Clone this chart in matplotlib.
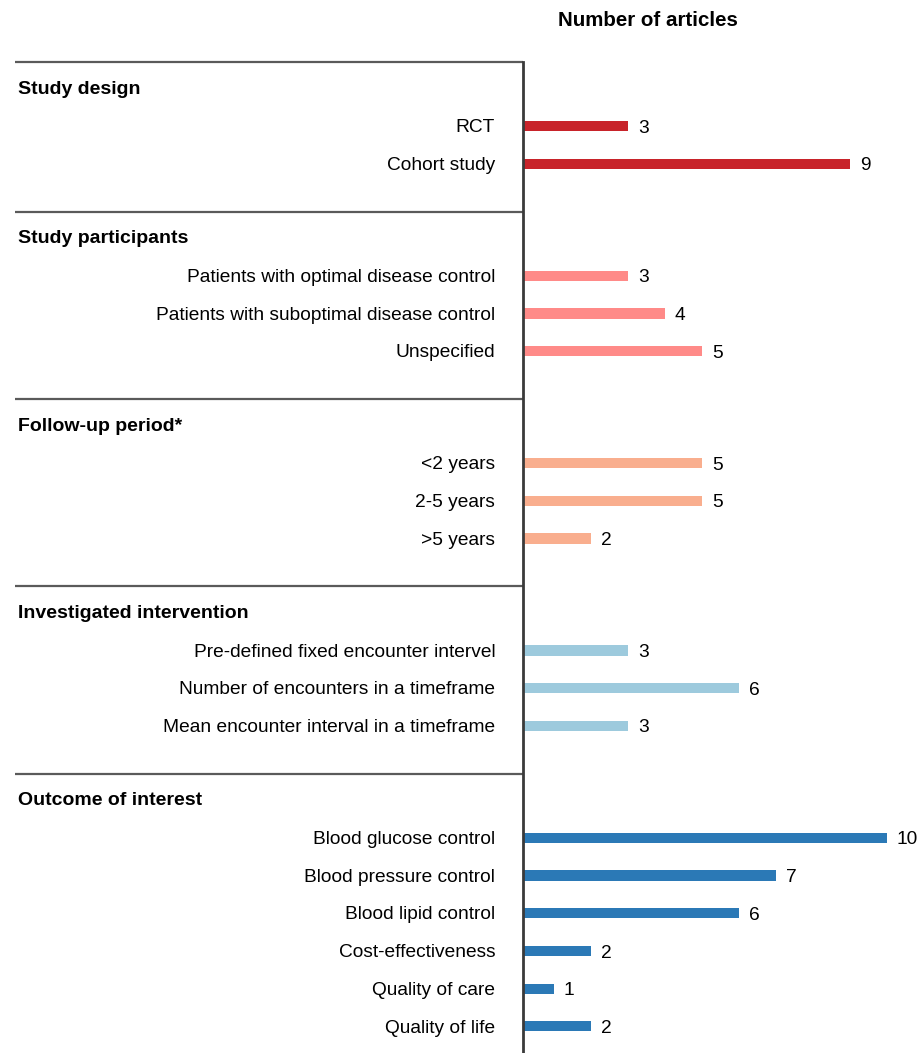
import matplotlib

matplotlib.use("Agg")
import matplotlib.pyplot as plt
from matplotlib import transforms

plt.rcParams["font.family"] = ["Liberation Sans", "DejaVu Sans"]

# データ
groups = [
    "Study design",
    "Study participants",
    "Follow-up period*",
    "Investigated intervention",
    "Outcome of interest",
]
study_design = ["RCT", "Cohort study"]
study_design_n = [3, 9]
participants = [
    "Patients with optimal disease control",
    "Patients with suboptimal disease control",
    "Unspecified",
]
participants_n = [3, 4, 5]
follow_up = ["<2 years", "2-5 years", ">5 years"]
follow_up_n = [5, 5, 2]
intervention = [
    "Pre-defined fixed encounter intervel",
    "Number of encounters in a timeframe",
    "Mean encounter interval in a timeframe",
]
intervention_n = [3, 6, 3]
outcome = [
    "Blood glucose control",
    "Blood pressure control",
    "Blood lipid control",
    "Cost-effectiveness",
    "Quality of care",
    "Quality of life",
]
outcome_n = [10, 7, 6, 2, 1, 2]

items = [study_design, participants, follow_up, intervention, outcome]
counts = [study_design_n, participants_n, follow_up_n, intervention_n, outcome_n]
colors = ["#C8232A", "#FF8A88", "#F9AE8E", "#9DCADD", "#2B79B6"]

W, H = 917, 1053
ROW = 37.7  # 1行の高さ(px)
AX_LEFT = 523
PX_PER_UNIT = 37.0
X0 = 6 / PX_PER_UNIT  # 軸線の位置(データ座標)

fig = plt.figure(figsize=(W / 100, H / 100), dpi=100)
ax = fig.add_axes([AX_LEFT / W, 0, (W - AX_LEFT) / W, 1])
ax.set_xlim(X0, X0 + (W - AX_LEFT) / PX_PER_UNIT)
ax.set_ylim(H / ROW, 0)

# レイアウト計算
y = 62 / ROW
top = y
seps, headers, ys = [], [], []
for labels in items:
    seps.append(y)
    headers.append(y + 0.72)
    pos = [y + 1.7 + i for i in range(len(labels))]
    ys.append(pos)
    y = pos[-1] + 1.27

blend = transforms.blended_transform_factory(fig.transFigure, ax.transData)

for g, labels, vals, pos, c, sy, hy in zip(groups, items, counts, ys, colors, seps, headers):
    ax.barh(pos, vals, height=0.27, color=c, edgecolor="none")
    ax.plot([15 / W, AX_LEFT / W], [sy, sy], transform=blend, color="#5a5a5a",
            lw=1.6, clip_on=False, solid_capstyle="butt")
    ax.text(18 / W, hy, g, transform=blend, fontsize=14, fontweight="bold",
            va="center", ha="left")
    for lab, v, p in zip(labels, vals, pos):
        ax.annotate(lab, (X0, p), xytext=(-20, -1.2), textcoords="offset points",
                    ha="right", va="center", fontsize=13.8, annotation_clip=False)
        ax.annotate(str(v), (v, p), xytext=(7, -1.5), textcoords="offset points",
                    ha="left", va="center", fontsize=13.8, annotation_clip=False)

fig.text(648 / W, 1 - 21 / H, "Number of articles", ha="center", va="center",
         fontsize=14.8, fontweight="bold")

for s in ["top", "right", "bottom"]:
    ax.spines[s].set_visible(False)
ax.spines["left"].set_bounds(top, H / ROW)
ax.spines["left"].set_color("#3a3a3a")
ax.spines["left"].set_linewidth(2)
ax.set_xticks([])
ax.set_yticks([])
ax.patch.set_visible(False)

fig.savefig("out.png", dpi=100)
